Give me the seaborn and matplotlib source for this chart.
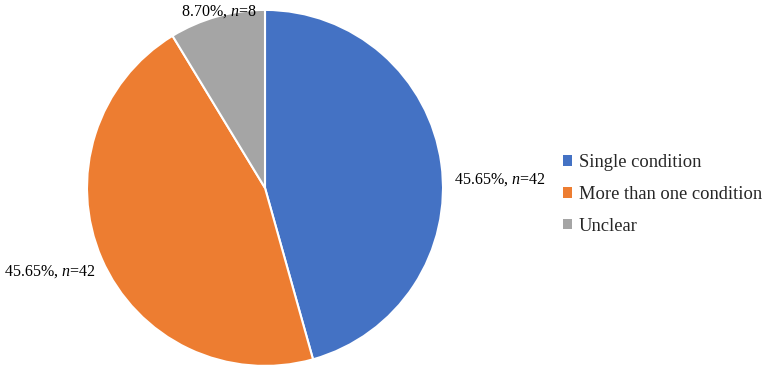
import matplotlib
matplotlib.use("Agg")
import matplotlib.pyplot as plt
import seaborn as sns
from matplotlib.patches import Patch

categories = ["Single condition", "More than one condition", "Unclear"]
counts = [42, 42, 8]
percents = [45.65, 45.65, 8.70]
colors = ["#4472C4", "#ED7D31", "#A5A5A5"]

sns.set_theme(style="white")
plt.rcParams['font.family'] = ['Liberation Serif', 'DejaVu Serif']
plt.rcParams['mathtext.fontset'] = 'custom'
plt.rcParams['mathtext.rm'] = 'Liberation Serif'
plt.rcParams['mathtext.it'] = 'Liberation Serif:italic'

fig = plt.figure(figsize=(7.65, 3.73), dpi=100)
ax = fig.add_axes([0.1137, 0.019, 0.4654, 0.9544])
wedges, _ = ax.pie(counts, colors=colors, startangle=90, counterclock=False,
                   radius=1.0, wedgeprops=dict(edgecolor="white", linewidth=1.5))
ax.set_xlim(-1, 1)
ax.set_ylim(-1, 1)
ax.set_aspect("equal")
ax.axis("off")

label_pos = [(1.32, 0.045), (-1.21, -0.47), (-0.26, 0.99)]
for (x, y), p, n in zip(label_pos, percents, counts):
    ax.text(x, y, f"{p:.2f}%, $n$={n}", ha="center", va="center",
            fontsize=11.5, color="black", clip_on=False)

handles = [Patch(facecolor=c, edgecolor="none") for c in colors]
fig.legend(handles, categories, loc="center left", bbox_to_anchor=(0.719, 0.479),
           frameon=False, fontsize=13.3, handlelength=0.5, handleheight=0.5,
           handletextpad=0.35, labelspacing=0.8, borderpad=0.2)

fig.savefig("out.png", dpi=100)
